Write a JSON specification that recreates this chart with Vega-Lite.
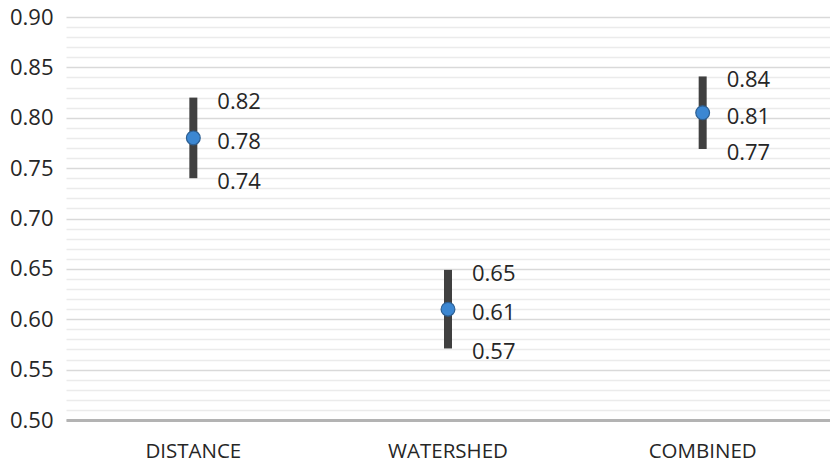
{
  "$schema": "https://vega.github.io/schema/vega-lite/v6.json",
  "width": 764,
  "height": 403,
  "autosize": {"type": "none"},
  "padding": {"left": 66, "top": 17, "right": 0, "bottom": 47},
  "background": "white",
  "config": {"view": {"stroke": null}, "font": "Open Sans"},
  "data": {"values": [
    {"method": "DISTANCE", "lo": 0.74, "mean": 0.78, "hi": 0.82, "loLabel": "0.74", "meanLabel": "0.78", "hiLabel": "0.82"},
    {"method": "WATERSHED", "lo": 0.571, "mean": 0.61, "hi": 0.649, "loLabel": "0.57", "meanLabel": "0.61", "hiLabel": "0.65"},
    {"method": "COMBINED", "lo": 0.769, "mean": 0.805, "hi": 0.841, "loLabel": "0.77", "meanLabel": "0.81", "hiLabel": "0.84"}
  ]},
  "encoding": {
    "x": {"field": "method", "type": "nominal", "sort": null,
      "scale": {"paddingInner": 0, "paddingOuter": 0},
      "axis": {"title": null, "labelAngle": 0, "labelFontSize": 20.5, "labelColor": "#262626", "labelPadding": 21, "ticks": false, "domainColor": "#b3b3b3", "domainWidth": 3, "grid": false}
    }
  },
  "layer": [
    {
      "mark": {"type": "rule", "strokeWidth": 8, "color": "#404040"},
      "encoding": {
        "y": {"field": "lo", "type": "quantitative",
          "scale": {"domain": [0.5, 0.9], "nice": false, "zero": false},
          "axis": {
            "title": null,
            "values": [0.5,0.51,0.52,0.53,0.54,0.55,0.56,0.57,0.58,0.59,0.6,0.61,0.62,0.63,0.64,0.65,0.66,0.67,0.68,0.69,0.7,0.71,0.72,0.73,0.74,0.75,0.76,0.77,0.78,0.79,0.8,0.81,0.82,0.83,0.84,0.85,0.86,0.87,0.88,0.89,0.9],
            "labelExpr": "abs(datum.value*20 - round(datum.value*20)) < 0.001 ? format(datum.value, '.2f') : ''",
            "labelOverlap": false, "labelBound": false, "labelFlush": false,
            "labelFontSize": 22, "labelColor": "#262626", "labelPadding": 13,
            "ticks": false, "domain": false, "grid": true,
            "gridColor": {"condition": {"test": "abs(datum.value*20 - round(datum.value*20)) < 0.001", "value": "#d9d9d9"}, "value": "#ebebeb"},
            "gridWidth": 1.5
          }
        },
        "y2": {"field": "hi"}
      }
    },
    {
      "mark": {"type": "point", "shape": "circle", "filled": true, "size": 190, "fill": "#3c87d2", "stroke": "#2d5f92", "strokeWidth": 1.2, "opacity": 1},
      "encoding": {"y": {"field": "mean", "type": "quantitative",
          "axis": {
            "title": null,
            "values": [0.5,0.51,0.52,0.53,0.54,0.55,0.56,0.57,0.58,0.59,0.6,0.61,0.62,0.63,0.64,0.65,0.66,0.67,0.68,0.69,0.7,0.71,0.72,0.73,0.74,0.75,0.76,0.77,0.78,0.79,0.8,0.81,0.82,0.83,0.84,0.85,0.86,0.87,0.88,0.89,0.9],
            "labelExpr": "abs(datum.value*20 - round(datum.value*20)) < 0.001 ? format(datum.value, '.2f') : ''",
            "labelOverlap": false, "labelBound": false, "labelFlush": false,
            "labelFontSize": 22, "labelColor": "#262626", "labelPadding": 13,
            "ticks": false, "domain": false, "grid": true,
            "gridColor": {"condition": {"test": "abs(datum.value*20 - round(datum.value*20)) < 0.001", "value": "#d9d9d9"}, "value": "#ebebeb"},
            "gridWidth": 1.5
          }}}
    },
    {
      "mark": {"type": "text", "align": "left", "baseline": "middle", "dx": 24, "dy": 4, "fontSize": 22, "color": "#262626"},
      "encoding": {"y": {"field": "hi", "type": "quantitative",
          "axis": {
            "title": null,
            "values": [0.5,0.51,0.52,0.53,0.54,0.55,0.56,0.57,0.58,0.59,0.6,0.61,0.62,0.63,0.64,0.65,0.66,0.67,0.68,0.69,0.7,0.71,0.72,0.73,0.74,0.75,0.76,0.77,0.78,0.79,0.8,0.81,0.82,0.83,0.84,0.85,0.86,0.87,0.88,0.89,0.9],
            "labelExpr": "abs(datum.value*20 - round(datum.value*20)) < 0.001 ? format(datum.value, '.2f') : ''",
            "labelOverlap": false, "labelBound": false, "labelFlush": false,
            "labelFontSize": 22, "labelColor": "#262626", "labelPadding": 13,
            "ticks": false, "domain": false, "grid": true,
            "gridColor": {"condition": {"test": "abs(datum.value*20 - round(datum.value*20)) < 0.001", "value": "#d9d9d9"}, "value": "#ebebeb"},
            "gridWidth": 1.5
          }}, "text": {"field": "hiLabel"}}
    },
    {
      "mark": {"type": "text", "align": "left", "baseline": "middle", "dx": 24, "dy": 4, "fontSize": 22, "color": "#262626"},
      "encoding": {"y": {"field": "mean", "type": "quantitative",
          "axis": {
            "title": null,
            "values": [0.5,0.51,0.52,0.53,0.54,0.55,0.56,0.57,0.58,0.59,0.6,0.61,0.62,0.63,0.64,0.65,0.66,0.67,0.68,0.69,0.7,0.71,0.72,0.73,0.74,0.75,0.76,0.77,0.78,0.79,0.8,0.81,0.82,0.83,0.84,0.85,0.86,0.87,0.88,0.89,0.9],
            "labelExpr": "abs(datum.value*20 - round(datum.value*20)) < 0.001 ? format(datum.value, '.2f') : ''",
            "labelOverlap": false, "labelBound": false, "labelFlush": false,
            "labelFontSize": 22, "labelColor": "#262626", "labelPadding": 13,
            "ticks": false, "domain": false, "grid": true,
            "gridColor": {"condition": {"test": "abs(datum.value*20 - round(datum.value*20)) < 0.001", "value": "#d9d9d9"}, "value": "#ebebeb"},
            "gridWidth": 1.5
          }}, "text": {"field": "meanLabel"}}
    },
    {
      "mark": {"type": "text", "align": "left", "baseline": "middle", "dx": 24, "dy": 4, "fontSize": 22, "color": "#262626"},
      "encoding": {"y": {"field": "lo", "type": "quantitative",
          "axis": {
            "title": null,
            "values": [0.5,0.51,0.52,0.53,0.54,0.55,0.56,0.57,0.58,0.59,0.6,0.61,0.62,0.63,0.64,0.65,0.66,0.67,0.68,0.69,0.7,0.71,0.72,0.73,0.74,0.75,0.76,0.77,0.78,0.79,0.8,0.81,0.82,0.83,0.84,0.85,0.86,0.87,0.88,0.89,0.9],
            "labelExpr": "abs(datum.value*20 - round(datum.value*20)) < 0.001 ? format(datum.value, '.2f') : ''",
            "labelOverlap": false, "labelBound": false, "labelFlush": false,
            "labelFontSize": 22, "labelColor": "#262626", "labelPadding": 13,
            "ticks": false, "domain": false, "grid": true,
            "gridColor": {"condition": {"test": "abs(datum.value*20 - round(datum.value*20)) < 0.001", "value": "#d9d9d9"}, "value": "#ebebeb"},
            "gridWidth": 1.5
          }}, "text": {"field": "loLabel"}}
    }
  ]
}
